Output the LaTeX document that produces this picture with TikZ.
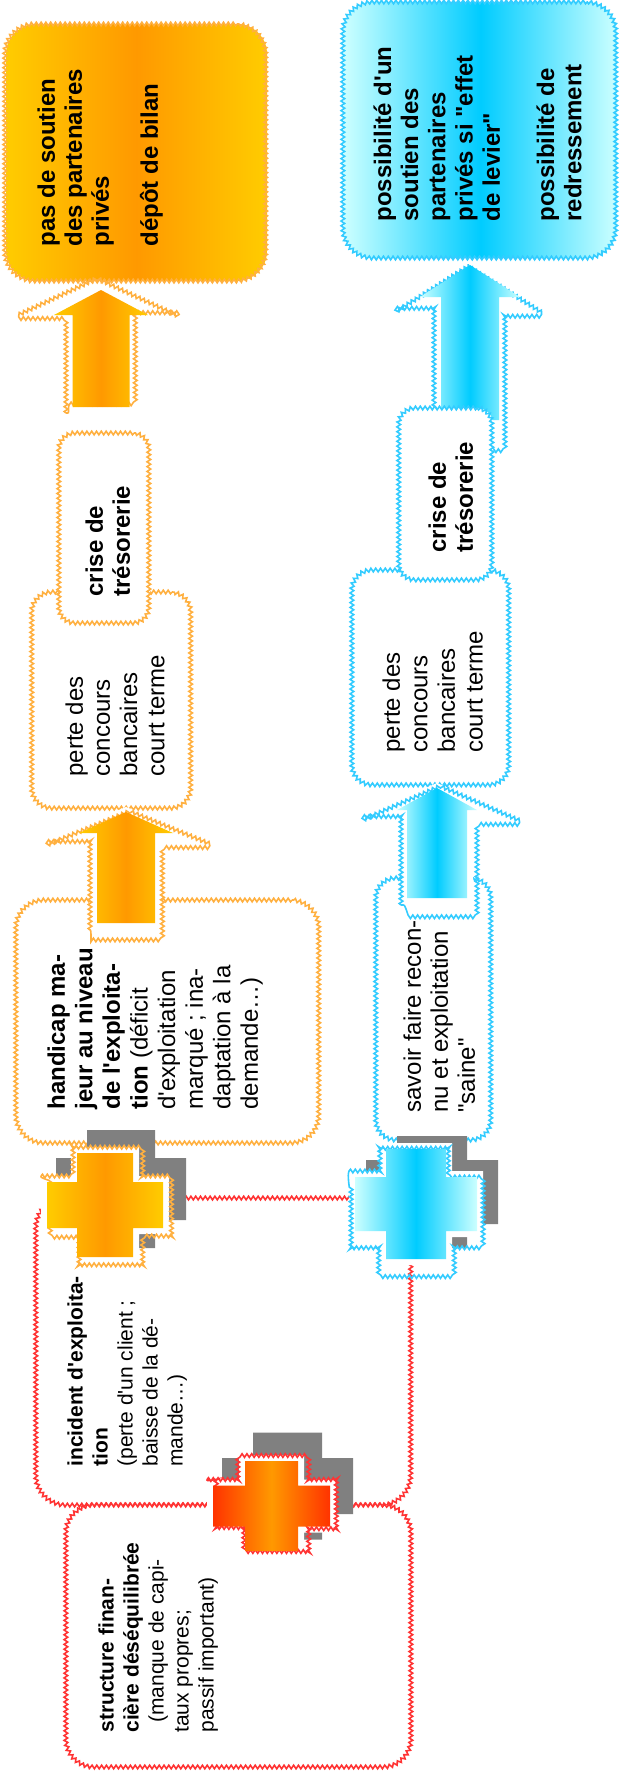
\documentclass[tikz,border=0pt]{standalone}
\usepackage{fontspec}
\setmainfont{Liberation Sans}[Ligatures=TeXOff]
\usetikzlibrary{decorations.pathmorphing}
\definecolor{ogold}{HTML}{FFCC00}
\definecolor{odeep}{HTML}{FF9900}
\definecolor{oline}{HTML}{FFB040}
\definecolor{bpale}{HTML}{CCFFFF}
\definecolor{bdeep}{HTML}{00CCFF}
\definecolor{bline}{HTML}{33CCFF}
\definecolor{rdeep}{HTML}{FF3300}
\definecolor{rline}{HTML}{FF3333}
\definecolor{shadowgray}{HTML}{808080}

\pgfdeclarehorizontalshading{oshade}{100bp}{color(0bp)=(ogold); color(25bp)=(ogold); color(50bp)=(odeep); color(75bp)=(ogold); color(100bp)=(ogold)}
\pgfdeclarehorizontalshading{bshade}{100bp}{color(0bp)=(bpale); color(25bp)=(bpale); color(50bp)=(bdeep); color(75bp)=(bpale); color(100bp)=(bpale)}
\pgfdeclarehorizontalshading{rshade}{100bp}{color(0bp)=(rdeep); color(25bp)=(rdeep); color(50bp)=(odeep); color(75bp)=(rdeep); color(100bp)=(rdeep)}

% plus sign: cx cy barhalfw barhalfh posthalfw posthalfh grow
\newcommand{\plusshape}[7]{({#1-#3-#7},{#2-#4-#7}) -- ({#1-#5-#7},{#2-#4-#7}) -- ({#1-#5-#7},{#2-#6-#7}) -- ({#1+#5+#7},{#2-#6-#7}) -- ({#1+#5+#7},{#2-#4-#7}) -- ({#1+#3+#7},{#2-#4-#7}) -- ({#1+#3+#7},{#2+#4+#7}) -- ({#1+#5+#7},{#2+#4+#7}) -- ({#1+#5+#7},{#2+#6+#7}) -- ({#1-#5-#7},{#2+#6+#7}) -- ({#1-#5-#7},{#2+#4+#7}) -- ({#1-#3-#7},{#2+#4+#7}) -- cycle}
% block arrow pointing up: cx tipy basey headhalfw shafthalfw bottomy
\newcommand{\blockup}[6]{({#1-#5},#6) -- ({#1-#5},#3) -- ({#1-#4},#3) -- (#1,#2) -- ({#1+#4},#3) -- ({#1+#5},#3) -- ({#1+#5},#6) -- cycle}

\begin{document}
\begin{tikzpicture}[x=0.5pt, y=-0.5pt,
    wavy/.style={decorate, decoration={snake, segment length=2.4pt, amplitude=0.9pt}},
    rim/.style={postaction={draw=#1, line width=0.8pt, sharp corners, wavy}},
    card/.style={rectangle, inner sep=0pt, fill=white, rim=#1},
    vtxt/.style={rotate=90, anchor=north west, inner sep=0pt, align=left, font=\fontsize{12}{13.5}\selectfont},
    vbold/.style={vtxt, font=\bfseries\fontsize{12}{13.5}\selectfont},
    vsmall/.style={vtxt, font=\fontsize{10.5}{12.5}\selectfont}]
  \useasboundingbox[fill=white] (0,0) rectangle (621,1785);

  % red frames
  \node[card=rline, rounded corners=15pt, minimum width=187.5pt, minimum height=153.5pt] (incid) at (224.5,1351.5) {};
  \node[card=rline, rounded corners=14pt, minimum width=172.5pt, minimum height=131pt] (struct) at (239.5,1636) {};

  % outcomes
  \node[card=oline, shading=oshade, rounded corners=15pt, minimum width=130.5pt, minimum height=128.5pt] (otop) at (136.5,152.5) {};
  \node[card=bline, shading=bshade, rounded corners=15pt, minimum width=136.5pt, minimum height=128pt] (btop) at (480.5,130) {};

  % steps
  \node[card=oline, rounded corners=10pt, minimum width=79.5pt, minimum height=108pt] (operte) at (112.5,700) {};
  \node[card=oline, rounded corners=14pt, minimum width=151.5pt, minimum height=121.5pt] (hand) at (168.5,1021.5) {};
  \node[card=bline, rounded corners=10pt, minimum width=78.5pt, minimum height=107.5pt] (bperte) at (431.5,677.5) {};
  \node[card=bline, rounded corners=10pt, minimum width=57.5pt, minimum height=131pt] (savoir) at (434.5,1009) {};

  % block arrows
  \path[fill=white, rim=oline] \blockup{101}{285}{322}{80}{35}{413};
  \shade[shading=oshade] \blockup{101}{290}{315}{47}{28.5}{407};
  \path[fill=white, rim=oline] \blockup{126}{807}{840}{81}{36}{930};
  \shade[shading=oshade] \blockup{126}{812}{833}{47}{29}{923};
  \path[fill=white, rim=bline] \blockup{470}{260}{307}{75}{36}{440};
  \shade[shading=bshade] \blockup{470}{265}{297}{50}{29}{420};
  \path[fill=white, rim=bline] \blockup{437}{783}{817}{78}{36}{905};
  \shade[shading=bshade] \blockup{437}{788}{810}{40}{30}{898};

  \node[card=oline, rounded corners=8pt, minimum width=45pt, minimum height=95pt] (ocrise) at (105,528) {};
  \node[card=bline, rounded corners=8pt, minimum width=46.5pt, minimum height=86pt] (bcrise) at (446.5,494) {};

  % crosses
  \fill[shadowgray] \plusshape{121}{1189}{65}{31}{34}{59}{0};
  \path[fill=white, rim=oline] \plusshape{105}{1205}{58}{23}{28}{52}{6};
  \shade[shading=oshade] \plusshape{105}{1205}{58}{23}{28}{52}{0};
  \fill[shadowgray] \plusshape{432}{1192}{66}{32}{35}{56}{0};
  \path[fill=white, rim=bline] \plusshape{416}{1204}{61}{27}{30}{55}{6};
  \shade[shading=bshade] \plusshape{416}{1204}{61}{27}{30}{55}{0};
  \fill[shadowgray] \plusshape{287.5}{1486}{65.5}{28}{34.5}{53.5}{0};
  \path[fill=white, rim=rline] \plusshape{271.5}{1506}{58.5}{20.5}{26.5}{45}{6};
  \shade[shading=rshade] \plusshape{271.5}{1506}{58.5}{20.5}{26.5}{45}{0};

  % texts
  \node[vbold] (otopt) at (37,247) {pas de soutien\\des partenaires\\privés\\[11pt]dépôt de bilan};
  \node[vbold, font=\bfseries\fontsize{12}{13.6}\selectfont] (btopt) at (373,222) {possibilité d'un\\soutien des\\partenaires\\privés si "effet\\de levier"\\[13.6pt]possibilité de\\redressement};
  \node[vbold] (ocriset) at (85,597) {crise de\\trésorerie};
  \node[vbold] (bcriset) at (428,553) {crise de\\trésorerie};
  \node[vtxt, font=\fontsize{12}{13.6}\selectfont] (opertet) at (65,777) {perte des\\concours\\bancaires\\court terme};
  \node[vtxt, font=\fontsize{12}{13.8}\selectfont] (bpertet) at (382,753) {perte des\\concours\\bancaires\\court terme};
  \node[vtxt, font=\fontsize{12}{13.8}\selectfont] (handt) at (47,1110) {\textbf{handicap ma-}\\\textbf{jeur au niveau}\\\textbf{de l'exploita-}\\\textbf{tion} (déficit\\d'exploitation\\marqué ; ina-\\daptation à la\\demande…)};
  \node[vtxt] (savoirt) at (403,1113) {savoir faire recon-\\nu et exploitation\\"saine"};
  \node[vsmall] (incidt) at (67,1467) {\textbf{incident d'exploita-}\\\textbf{tion}\\(perte d'un client ;\\baisse de la dé-\\mande…)};
  \node[vsmall] (structt) at (98,1733) {\textbf{structure finan-}\\\textbf{cière déséquilibrée}\\\hspace*{5pt}(manque de capi-\\taux propres;\\passif important)};
\end{tikzpicture}
\end{document}
